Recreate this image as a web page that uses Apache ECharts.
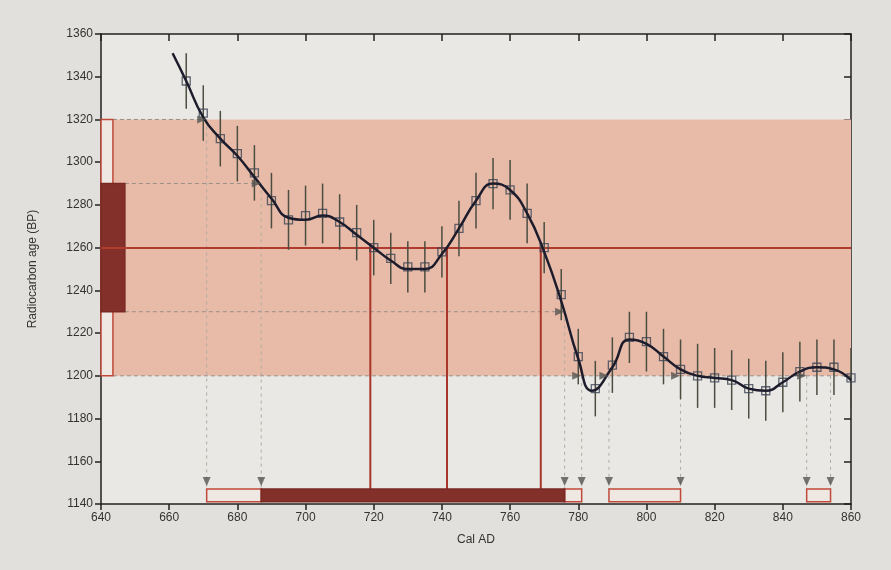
<!DOCTYPE html>
<html lang="en">
<head>
<meta charset="UTF-8">
<title>Radiocarbon calibration</title>
<script src="https://cdn.jsdelivr.net/npm/echarts@6/dist/echarts.min.js"></script>
<style>
html,body{margin:0;width:100%;height:100%;background:#e2e0dc;}
#chart{width:891px;height:570px;}
</style>
</head>
<body>
<div id="chart"></div>
<script>
// calibration data points (year AD, radiocarbon age BP, 1 sigma error)
var years = [665,670,675,680,685,690,695,700,705,710,715,720,725,730,735,740,745,750,755,760,
             765,770,775,780,785,790,795,800,805,810,815,820,825,830,835,840,845,850,855,860];
var ages = [1338,1323,1311,1304,1295,1282,1273,1275,1276,1272,1267,1260,1255,1251,1251,1258,1269,1282,1290,1287,
            1276,1260,1238,1209,1194,1205,1218,1216,1209,1203,1200,1199,1198,1194,1193,1197,1202,1204,1204,1199];
var errs = [13,13,13,13,13,13,14,14,14,13,13,13,12,12,12,12,13,13,12,14,
            14,12,12,13,13,13,12,14,13,14,15,14,14,14,14,14,14,13,13,14];

// smoothed calibration curve
var curveYears = [661,665,670,675,680,685,690,695,700,705,710,715,720,725,730,735,740,745,750,755,760,
                  765,770,775,780,784,790,795,800,805,810,815,820,825,830,835,840,845,850,855,860];
var curveAges = [1351,1338,1321,1311,1303,1293,1283,1274,1273,1275,1272,1266,1260,1254,1250,1250,1257,1269,1282,1290,1287,
                 1276,1258,1235,1208,1193,1204,1217,1215,1209,1203,1200,1199,1198,1194,1193,1197,1202,1204,1203,1198];

// measurement
var measAge = 1260;
var measSigma = 30;

// calibrated ranges
var range1 = [[687, 776]];
var range2 = [[671, 687], [776, 781], [789, 810], [847, 854]];
var hits1260 = [719, 741.5, 769];
var cross1 = [[687, 1290], [776, 1230]];
var cross2 = [[671, 1320], [781, 1200], [789, 1200], [810, 1200], [847, 1200], [854, 1200]];
var arrowPts = [[671, 1320], [687, 1290], [776, 1230], [781, 1200], [789, 1200], [810, 1200], [847, 1200]];

var chart = echarts.init(document.getElementById('chart'));

var barLo = 1141, barHi = 1147;
var boxW = 3.5, rectW = 7;

function segment(color, width, dash) {
  return function (params, api) {
    var a = api.coord([api.value(0), api.value(1)]);
    var b = api.coord([api.value(2), api.value(3)]);
    return {
      type: 'line',
      shape: { x1: a[0], y1: a[1], x2: b[0], y2: b[1] },
      style: { stroke: color, lineWidth: width, lineDash: dash || null }
    };
  };
}

function rect(params, api) {
  var a = api.coord([api.value(0), api.value(3)]);
  var b = api.coord([api.value(1), api.value(2)]);
  var solid = api.value(4) === 1;
  return {
    type: 'rect',
    shape: { x: a[0], y: a[1], width: b[0] - a[0], height: b[1] - a[1] },
    style: { fill: solid ? '#83302a' : '#efe7e2', stroke: solid ? '#7a2824' : '#c04a3a', lineWidth: 1.5 }
  };
}

var lo2 = measAge - 2 * measSigma, hi2 = measAge + 2 * measSigma;
var lo1 = measAge - measSigma, hi1 = measAge + measSigma;

// dashed guides
var hDash = [
  [640 + boxW, hi2, cross2[0][0], hi2],
  [640 + rectW, hi1, cross1[0][0], hi1],
  [640 + rectW, lo1, cross1[1][0], lo1],
  [640 + boxW, lo2, 860, lo2]
];
var vDash = [];
cross1.concat(cross2).forEach(function (c) { vDash.push([c[0], c[1], c[0], barHi]); });
var redV = hits1260.map(function (x) { return [x, measAge, x, barHi]; });

var bars = [];
range2.forEach(function (r) { bars.push([r[0], r[1], barLo, barHi, 0]); });
range1.forEach(function (r) { bars.push([r[0], r[1], barLo, barHi, 1]); });
var ends = [];
range2.forEach(function (r) { ends.push([r[0], 1150.5]); ends.push([r[1], 1150.5]); });

var axisTxt = { color: '#333', fontSize: 12, fontFamily: 'Liberation Sans, Arial, sans-serif' };
var tickLbl = { color: '#333', fontSize: 12, fontFamily: 'Liberation Sans, Arial, sans-serif',
                formatter: function (v) { return String(v); } };

chart.setOption({
  backgroundColor: '#e2e0dc',
  animation: false,
  grid: { left: 101, right: 40, top: 34, bottom: 66, show: true, backgroundColor: '#eae8e4', borderWidth: 0 },
  xAxis: [{
    type: 'value', min: 640, max: 860, interval: 20, position: 'bottom',
    name: 'Cal AD', nameLocation: 'middle', nameGap: 30, nameTextStyle: axisTxt,
    axisLine: { lineStyle: { color: '#222', width: 1.5 } },
    axisTick: { inside: false, length: 6, lineStyle: { color: '#222', width: 1.5 } },
    axisLabel: tickLbl, splitLine: { show: false }
  }, {
    type: 'value', min: 640, max: 860, interval: 20, position: 'top',
    axisLine: { lineStyle: { color: '#222', width: 1.5 } },
    axisTick: { inside: true, length: 7, lineStyle: { color: '#222', width: 1.5 } },
    axisLabel: { show: false }, splitLine: { show: false }
  }],
  yAxis: [{
    type: 'value', min: 1140, max: 1360, interval: 20, position: 'left',
    name: 'Radiocarbon age (BP)', nameLocation: 'middle', nameGap: 62, nameRotate: 90, nameTextStyle: axisTxt,
    axisLine: { show: true, lineStyle: { color: '#222', width: 1.5 } },
    axisTick: { show: true, inside: false, length: 6, lineStyle: { color: '#222', width: 1.5 } },
    axisLabel: tickLbl, splitLine: { show: false }
  }, {
    type: 'value', min: 1140, max: 1360, interval: 20, position: 'right',
    axisLine: { show: true, lineStyle: { color: '#222', width: 1.5 } },
    axisTick: { show: true, inside: true, length: 7, lineStyle: { color: '#222', width: 1.5 } },
    axisLabel: { show: false }, splitLine: { show: false }
  }],
  series: [
    {
      type: 'line', data: [], z: 1,
      markArea: {
        silent: true,
        itemStyle: { color: '#e8bba8' },
        data: [[{ coord: [640, lo2] }, { coord: [860, hi2] }]]
      },
      markLine: {
        silent: true, symbol: 'none', label: { show: false },
        lineStyle: { color: '#b23a2e', width: 2, type: 'solid' },
        data: [[{ coord: [640, measAge] }, { coord: [860, measAge] }]]
      }
    },
    { type: 'custom', z: 2, renderItem: segment('#9a8f88', 1, [4, 3]), data: hDash, encode: { x: [0, 2], y: [1, 3] } },
    { type: 'custom', z: 2, renderItem: segment('#b0aaa4', 1, [3, 4]), data: vDash, encode: { x: [0, 2], y: [1, 3] } },
    { type: 'custom', z: 3, renderItem: segment('#a8362b', 2, null), data: redV, encode: { x: [0, 2], y: [1, 3] } },
    { type: 'custom', z: 4, renderItem: rect, data: bars, encode: { x: [0, 1], y: [2, 3] } },
    {
      type: 'custom', z: 4, encode: { x: [0, 1], y: [2, 3] },
      data: [[640, 640 + boxW, lo2, hi2, 0], [640, 640 + rectW, lo1, hi1, 1]],
      renderItem: rect
    },
    {
      type: 'custom', z: 5, encode: { x: [0, 2], y: [1, 3] },
      data: years.map(function (y, i) { return [y, ages[i] - errs[i], y, ages[i] + errs[i]]; }),
      renderItem: segment('#4b4d40', 1.5, null)
    },
    {
      type: 'scatter', z: 6, symbol: 'rect', symbolSize: 8,
      itemStyle: { color: 'rgba(0,0,0,0)', borderColor: '#3a4454', borderWidth: 1.3 },
      data: years.map(function (y, i) { return [y, ages[i]]; })
    },
    {
      type: 'line', z: 7, smooth: 0.5, showSymbol: false,
      lineStyle: { color: '#1c1c2c', width: 2.5 },
      data: curveYears.map(function (y, i) { return [y, curveAges[i]]; })
    },
    {
      type: 'scatter', z: 8, symbol: 'triangle', symbolSize: [8, 9], symbolRotate: -90, symbolOffset: [-5, 0],
      itemStyle: { color: '#555450' }, data: arrowPts
    },
    {
      type: 'scatter', z: 8, symbol: 'triangle', symbolSize: [8, 9], symbolRotate: 180,
      itemStyle: { color: '#555450' }, data: ends
    }
  ]
});
</script>
</body>
</html>
